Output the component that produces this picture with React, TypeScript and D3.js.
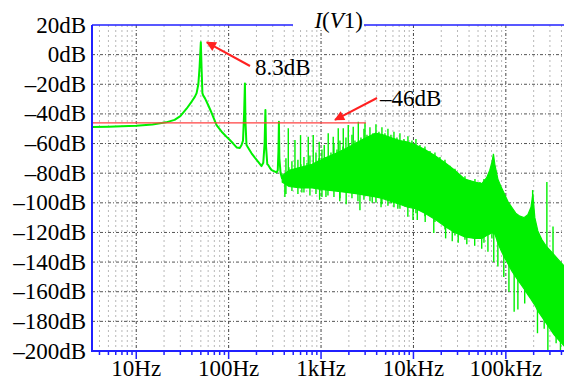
import React from "react";
import * as d3 from "d3";

// ---------- data ----------
const yTicks = [20, 0, -20, -40, -60, -80, -100, -120, -140, -160, -180, -200];
const yTickLabels = ["20dB", "0dB", "–20dB", "–40dB", "–60dB", "–80dB", "–100dB", "–120dB", "–140dB", "–160dB", "–180dB", "–200dB"];
const xMajor = [10, 100, 1000, 10000, 100000];
const xMajorLabels = ["10Hz", "100Hz", "1kHz", "10kHz", "100kHz"];
const xMinor = [4, 5, 6, 7, 8, 9,
  20, 30, 40, 50, 60, 70, 80, 90,
  200, 300, 400, 500, 600, 700, 800, 900,
  2000, 3000, 4000, 5000, 6000, 7000, 8000, 9000,
  20000, 30000, 40000, 50000, 60000, 70000, 80000, 90000,
  200000, 300000, 400000];

// low-frequency part of I(V1) (clean trace)
const lineFreq = [3.32, 5, 7, 10, 15, 21, 26, 30, 35, 40, 43, 45, 47, 48.5, 50, 51, 52, 53, 55.5, 60, 65.5, 74, 84, 95, 103, 112, 122, 132, 138, 143, 147, 150, 152, 156, 165, 177, 192, 209, 227, 237, 245, 250, 254, 262, 268, 280, 292, 305, 317, 330, 340, 346, 350, 354, 365, 380];
const lineDb = [-48.8, -48.6, -48.3, -48, -47.2, -45.7, -44, -41.5, -36.5, -31.5, -28.5, -26, -20, -8, 8.3, -10, -26, -27.5, -29.5, -34, -39.4, -47.5, -52, -55.5, -57.6, -60, -62.6, -63, -61, -58, -40, -19.4, -45, -61, -63.5, -66.6, -69.5, -72.3, -75.2, -73, -60, -37.4, -62, -74, -74.5, -76.5, -77.9, -78.5, -79, -79.5, -78, -65, -45.3, -70, -80, -84];

// noisy part: solid core of the dense band
const bandFreq = [380, 450, 600, 800, 1000, 1400, 1900, 2500, 3100, 3900, 4600, 5700, 7100, 8700, 10600, 13300, 17000, 22000, 28000, 36000, 46000, 55000, 62000, 67000, 71000, 73400, 76000, 82000, 88500, 95000, 105000, 116000, 128000, 142000, 157000, 173000, 187000, 196000, 206000, 222000, 246000, 272000, 300000, 332000, 366000, 405000, 447000];
const bandTop = [-82, -78, -76, -74, -71, -67, -63, -59, -56, -53, -54, -56, -58, -59, -61, -64, -68, -73, -78, -84, -86, -87, -83, -78, -72, -67, -74, -84, -89, -93, -99, -103, -107, -109, -110, -108, -103, -94, -110, -119, -125, -129, -132, -135, -138, -141, -144];
const bandBottom = [-86, -89, -90, -90, -91, -92, -93, -94, -95, -96, -97, -99, -101, -103, -104, -107, -111, -116, -120, -123, -124, -124, -122, -121, -120, -121, -121, -127, -132, -136, -141, -146, -150, -154, -158, -162, -165, -167, -169, -173, -177, -181, -185, -189, -192, -195, -198];

// spikes sticking out above the band
const upFreq = [442, 522, 600, 727, 823, 955, 1083, 1196, 1355, 1535, 1740, 1970, 2230, 2530, 2990, 195000, 278000, 324000,
  387, 417, 449, 484, 562, 606, 653, 704, 758, 881, 949, 1023, 1102, 1280, 1379, 1486, 1602, 1726, 1860, 2004, 2160, 2328, 2703, 2913, 3139, 3383, 3645, 3928, 4233, 4561, 4915, 5297, 5708, 6151, 6628, 7143, 7889, 8718, 9634, 10640, 11760, 13320, 15090, 17090, 19360, 21930, 24840, 28140, 31870, 36100, 40890, 46310, 52450, 57950];
const upDb = [-49.7, -57.6, -54.3, -55.4, -54.3, -58.8, -61, -53.1, -55.4, -49.7, -49.7, -47.5, -48.6, -45.3, -46, -91.4, -86, -116,
  -80, -70, -76, -72, -71, -74, -69, -73, -68, -66, -70, -64, -69, -66, -60, -64, -58, -62, -56, -60, -54, -58, -56, -50, -54, -49, -53, -47, -52, -49, -53, -50, -54, -52, -56, -53, -57, -55, -58, -57, -61, -62, -65, -66, -69, -71, -75, -77, -81, -82, -85, -84, -86, -84];

// spikes sticking out below the band
const downFreq = [406, 620, 965, 1130, 1595, 1870, 2636, 3580, 4460, 5770, 6780, 8700, 9890, 11000, 13400, 16600, 22300, 26300, 30500, 37800, 46000, 54800, 64000, 74000, 82000, 95000, 108000, 123000, 135000, 160000, 220000, 260000, 285000, 350000, 390000,
  417, 484, 562, 653, 758, 881, 1023, 1188, 1379, 1602, 2160, 2508, 2913, 3383, 3928, 4561, 5297, 6151, 7143, 10640, 13320, 17090, 21930, 28140, 36100, 57950, 70710];
const downDb = [-96, -93, -98, -96, -99, -101, -105, -100, -103, -100.4, -104, -109.4, -111.6, -111.6, -113, -120.4, -124, -126, -127, -128, -129, -131, -133, -140, -143, -150, -160, -173.5, -172, -168, -188, -185, -200, -194.8, -200,
  -94, -92, -94, -93, -95, -94, -96, -95, -96, -97, -97, -99, -98, -99, -100, -101, -102, -103, -104, -107, -109, -113, -118, -122, -125, -127, -124];

// -46dB reference line
const refDb = -46;
const refFreq = [3.32, 3060];

// annotations
const peakFreq = 50;
const peakDb = 8.3;
const peakLabel = "8.3dB";
const refLabel = "–46dB";

export default function App() {
  const W = 564, H = 380;
  const left = 92, right = 564, top = 25, bottom = 351;
  const x = d3.scaleLog().domain([3.32, 426000]).range([left, right]);
  const y = d3.scaleLinear().domain([20, -200]).range([top, bottom]);
  const green = "#00f000";

  const line = d3.line<number>().x((_, i) => x(lineFreq[i])).y((d) => y(d));
  const area = d3.area<number>()
    .x((_, i) => x(bandFreq[i]))
    .y0((_, i) => y(bandBottom[i]))
    .y1((d) => y(d));
  const lf = bandFreq.map(Math.log10);
  const topAt = d3.scaleLinear().domain(lf).range(bandTop).clamp(true);
  const botAt = d3.scaleLinear().domain(lf).range(bandBottom).clamp(true);

  const gridH = yTicks.slice(1, -1);

  return (
    <svg width={W} height={H} style={{ position: "absolute", left: 0, top: 0, background: "#fff", fontFamily: "Liberation Serif" }} fontFamily="Liberation Serif">
      <style>{`text, tspan { font-family: "Liberation Serif"; font-size: 23px; }`}</style>
      <defs>
        <clipPath id="plot"><rect x={left} y={top} width={right - left} height={bottom - top} /></clipPath>
        <marker id="ah" viewBox="0 0 10 10" refX="9" refY="5" markerWidth="14" markerHeight="10" orient="auto" markerUnits="userSpaceOnUse">
          <path d="M0,0 L10,5 L0,10 z" fill="#ff2020" />
        </marker>
      </defs>
      {/* grid */}
      {xMinor.map((f) => (
        <line key={"vm" + f} x1={x(f)} x2={x(f)} y1={top} y2={bottom} stroke="#b8b8b8" strokeWidth={1} strokeDasharray="2,3" />
      ))}
      {xMajor.map((f) => (
        <line key={"vM" + f} x1={x(f)} x2={x(f)} y1={top} y2={bottom} stroke="#444" strokeWidth={1} strokeDasharray="3,2,1,2" />
      ))}
      {gridH.map((v) => (
        <line key={"h" + v} x1={left} x2={right} y1={y(v)} y2={y(v)} stroke="#555" strokeWidth={1} strokeDasharray="3,2,1,2" />
      ))}

      <g clipPath="url(#plot)">
        <path d={area(bandTop) || ""} fill={green} stroke={green} strokeWidth={1.2} />
        {upFreq.map((f, i) => (
          <line key={"u" + i} x1={x(f)} x2={x(f)} y1={y(topAt(Math.log10(f))) + 4} y2={y(upDb[i])} stroke={green} strokeWidth={1.4} />
        ))}
        {downFreq.map((f, i) => (
          <line key={"d" + i} x1={x(f)} x2={x(f)} y1={y(botAt(Math.log10(f))) - 4} y2={y(downDb[i])} stroke={green} strokeWidth={1.4} />
        ))}
        <path d={line(lineDb) || ""} fill="none" stroke={green} strokeWidth={2} strokeLinejoin="round" />
        <line x1={x(refFreq[0])} x2={x(refFreq[1])} y1={y(refDb)} y2={y(refDb)} stroke="#ff4040" strokeWidth={1.2} />
      </g>

      {/* axes */}
      <line x1={left} x2={right} y1={top} y2={top} stroke="#2020ff" strokeWidth={1.5} />
      <line x1={left} x2={left} y1={top} y2={bottom + 1} stroke="#2020ff" strokeWidth={2} />
      <line x1={left} x2={right} y1={bottom} y2={bottom} stroke="#2020ff" strokeWidth={2} />
      {xMinor.map((f) => (
        <line key={"tm" + f} x1={x(f)} x2={x(f)} y1={bottom} y2={bottom + 4} stroke="#2020ff" strokeWidth={1.5} />
      ))}
      {xMajor.map((f) => (
        <line key={"tM" + f} x1={x(f)} x2={x(f)} y1={bottom} y2={bottom + 8} stroke="#2020ff" strokeWidth={1.5} />
      ))}
      {xMajor.map((f, i) => (
        <text key={"xl" + f} x={x(f)} y={376} textAnchor="middle" fontFamily="Liberation Serif" fontSize={23} fill="#000">{xMajorLabels[i]}</text>
      ))}
      {yTicks.map((v, i) => (
        <text key={"yl" + v} x={86} y={y(v) + 7.5} textAnchor="end" fontFamily="Liberation Serif" fontSize={23} fill="#000">{yTickLabels[i]}</text>
      ))}

      {/* title */}
      <rect x={293} y={14} width={71} height={16} fill="#fff" />
      <text x={363} y={28} textAnchor="end" fontFamily="Liberation Serif" fontSize={23} fill="#000">
        <tspan fontStyle="italic">I</tspan>(<tspan fontStyle="italic">V</tspan>1)
      </text>

      {/* annotations */}
      <line x1={250} y1={66} x2={x(peakFreq) + 6} y2={y(peakDb)} stroke="#ff2020" strokeWidth={2} markerEnd="url(#ah)" />
      <text x={255} y={75} fontFamily="Liberation Serif" fontSize={23} fill="#000">{peakLabel}</text>
      <line x1={377} y1={98} x2={335} y2={y(refDb) - 3} stroke="#ff2020" strokeWidth={2} markerEnd="url(#ah)" />
      <text x={380} y={106} fontFamily="Liberation Serif" fontSize={23} fill="#000">{refLabel}</text>
    </svg>
  );
}
